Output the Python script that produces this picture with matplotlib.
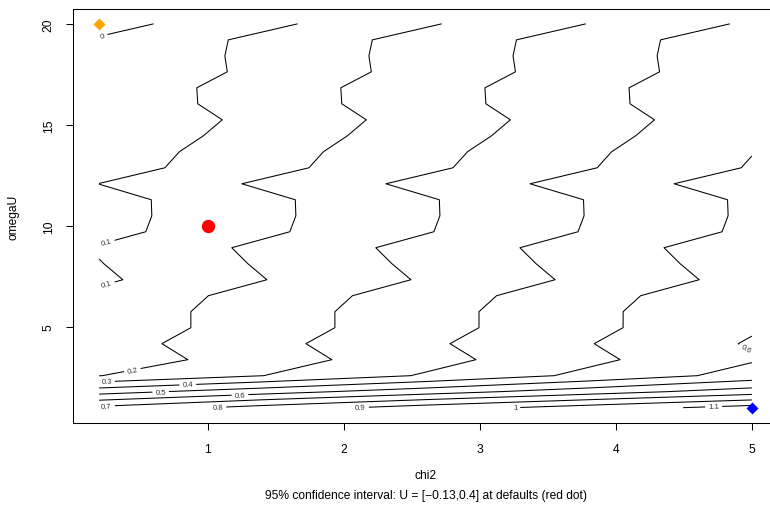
import numpy as np
import matplotlib
matplotlib.use("Agg")
import matplotlib.pyplot as plt

plt.rcParams['font.family'] = ['Liberation Sans', 'DejaVu Sans']

# grid on which the surface was evaluated
chi2_grid = [0.2, 1.4, 2.6, 3.8, 5.0]
omegaU_grid = [1.0, 1.792, 2.583, 3.375, 4.167, 4.958, 5.75, 6.542, 7.333, 8.125,
               8.917, 9.708, 10.5, 11.292, 12.083, 12.875, 13.667, 14.458, 15.25,
               16.042, 16.833, 17.625, 18.417, 19.208, 20.0]

# surface values (one list per chi2 column, bottom to top in omegaU)
u_chi2_0_2 = [0.722, 0.460, 0.198, 0.1384, 0.1564, 0.1363, 0.1363, 0.1241, 0.0835, 0.0967,
              0.1079, 0.0676, 0.0634, 0.0638, 0.1009, 0.0543, 0.0443, 0.0276, 0.0145,
              0.0315, 0.0322, 0.0110, 0.0127, 0.0103, -0.0378]
u_chi2_1_4 = [0.837, 0.558, 0.299, 0.2517, 0.2697, 0.2496, 0.2496, 0.2374, 0.1968, 0.2100,
              0.2212, 0.1809, 0.1767, 0.1771, 0.2142, 0.1676, 0.1576, 0.1409, 0.1278,
              0.1448, 0.1455, 0.1243, 0.1260, 0.1236, 0.0755]
u_chi2_2_6 = [0.946, 0.655, 0.410, 0.3650, 0.3830, 0.3629, 0.3629, 0.3507, 0.3101, 0.3233,
              0.3345, 0.2942, 0.2900, 0.2904, 0.3275, 0.2809, 0.2709, 0.2542, 0.2411,
              0.2581, 0.2588, 0.2376, 0.2393, 0.2369, 0.1888]
u_chi2_3_8 = [1.045, 0.753, 0.524, 0.4782, 0.4962, 0.4761, 0.4761, 0.4639, 0.4233, 0.4365,
              0.4477, 0.4074, 0.4032, 0.4036, 0.4407, 0.3941, 0.3841, 0.3674, 0.3543,
              0.3713, 0.3720, 0.3508, 0.3525, 0.3501, 0.3020]
u_chi2_5_0 = [1.140, 0.850, 0.638, 0.5915, 0.6095, 0.5894, 0.5894, 0.5772, 0.5366, 0.5498,
              0.5610, 0.5207, 0.5165, 0.5169, 0.5540, 0.5074, 0.4974, 0.4807, 0.4676,
              0.4846, 0.4853, 0.4641, 0.4658, 0.4634, 0.4153]

levels = [0.0, 0.1, 0.2, 0.3, 0.4, 0.5, 0.6, 0.7, 0.8, 0.9, 1.0, 1.1]

# highlighted points
point_chi2 = [0.2, 1.0, 5.0]
point_omegaU = [20.0, 10.0, 1.0]

xlabel = "chi2"
ylabel = "omegaU"
subtitle = "95% confidence interval: U = [\u22120.13,0.4] at defaults (red dot)"

Z = np.column_stack([u_chi2_0_2, u_chi2_1_4, u_chi2_2_6, u_chi2_3_8, u_chi2_5_0])

W, H = 770, 510
fig = plt.figure(figsize=(W / 100, H / 100), dpi=100)
ax = fig.add_axes([73 / W, (H - 424) / H, (778 - 73) / W, (424 - 9.5) / H])
ax.set_xlim(0.008, 5.192)
ax.set_ylim(0.24, 20.76)

cs = ax.contour(chi2_grid, omegaU_grid, Z, levels=levels, colors='black', linewidths=0.75)

def px2data(px, py):
    return (1 + (px - 208) / 135.5, 10 + (227 - py) / 20.2)

label_px = [(103, 37), (107, 244), (107, 285), (133, 372.5), (107, 383.5),
            (188, 387), (161, 395), (240, 397.5), (107, 407.5), (218, 408.8),
            (360, 408.5), (514, 408.3), (712, 407.8), (743, 352)]
manual = [px2data(a, b) for a, b in label_px]

ax.clabel(cs, levels=levels, fmt=lambda v: f"{round(v, 2):g}", manual=manual,
          inline=True, inline_spacing=3, fontsize=5.6, colors='#333333')

ax.plot(point_chi2[0], point_omegaU[0], 'D', color='#FFA500', ms=5.8, mec='none')
ax.plot(point_chi2[1], point_omegaU[1], 'o', color='#FF0000', ms=9.6, mec='none')
ax.plot(point_chi2[2], point_omegaU[2], 'D', color='#0000FF', ms=5.8, mec='none')

ax.set_xticks([1, 2, 3, 4, 5])
ax.set_yticks([5, 10, 15, 20])
ax.tick_params(direction='out', length=5.2, width=0.75, labelsize=8.64, colors='black')
ax.tick_params(axis='x', pad=9.5)
ax.tick_params(axis='y', pad=8, labelrotation=90)
for lab in ax.get_yticklabels():
    lab.set_va('center')
for s in ax.spines.values():
    s.set_linewidth(0.75)

fig.text(425.5 / W, (H - 476) / H, xlabel, ha='center', va='center', fontsize=8.64)
fig.text(425.5 / W, (H - 496) / H, subtitle, ha='center', va='center', fontsize=8.64)
fig.text(14 / W, (H - 217) / H, ylabel, ha='center', va='center', rotation=90, fontsize=8.64)

fig.savefig("out.png", dpi=100)
